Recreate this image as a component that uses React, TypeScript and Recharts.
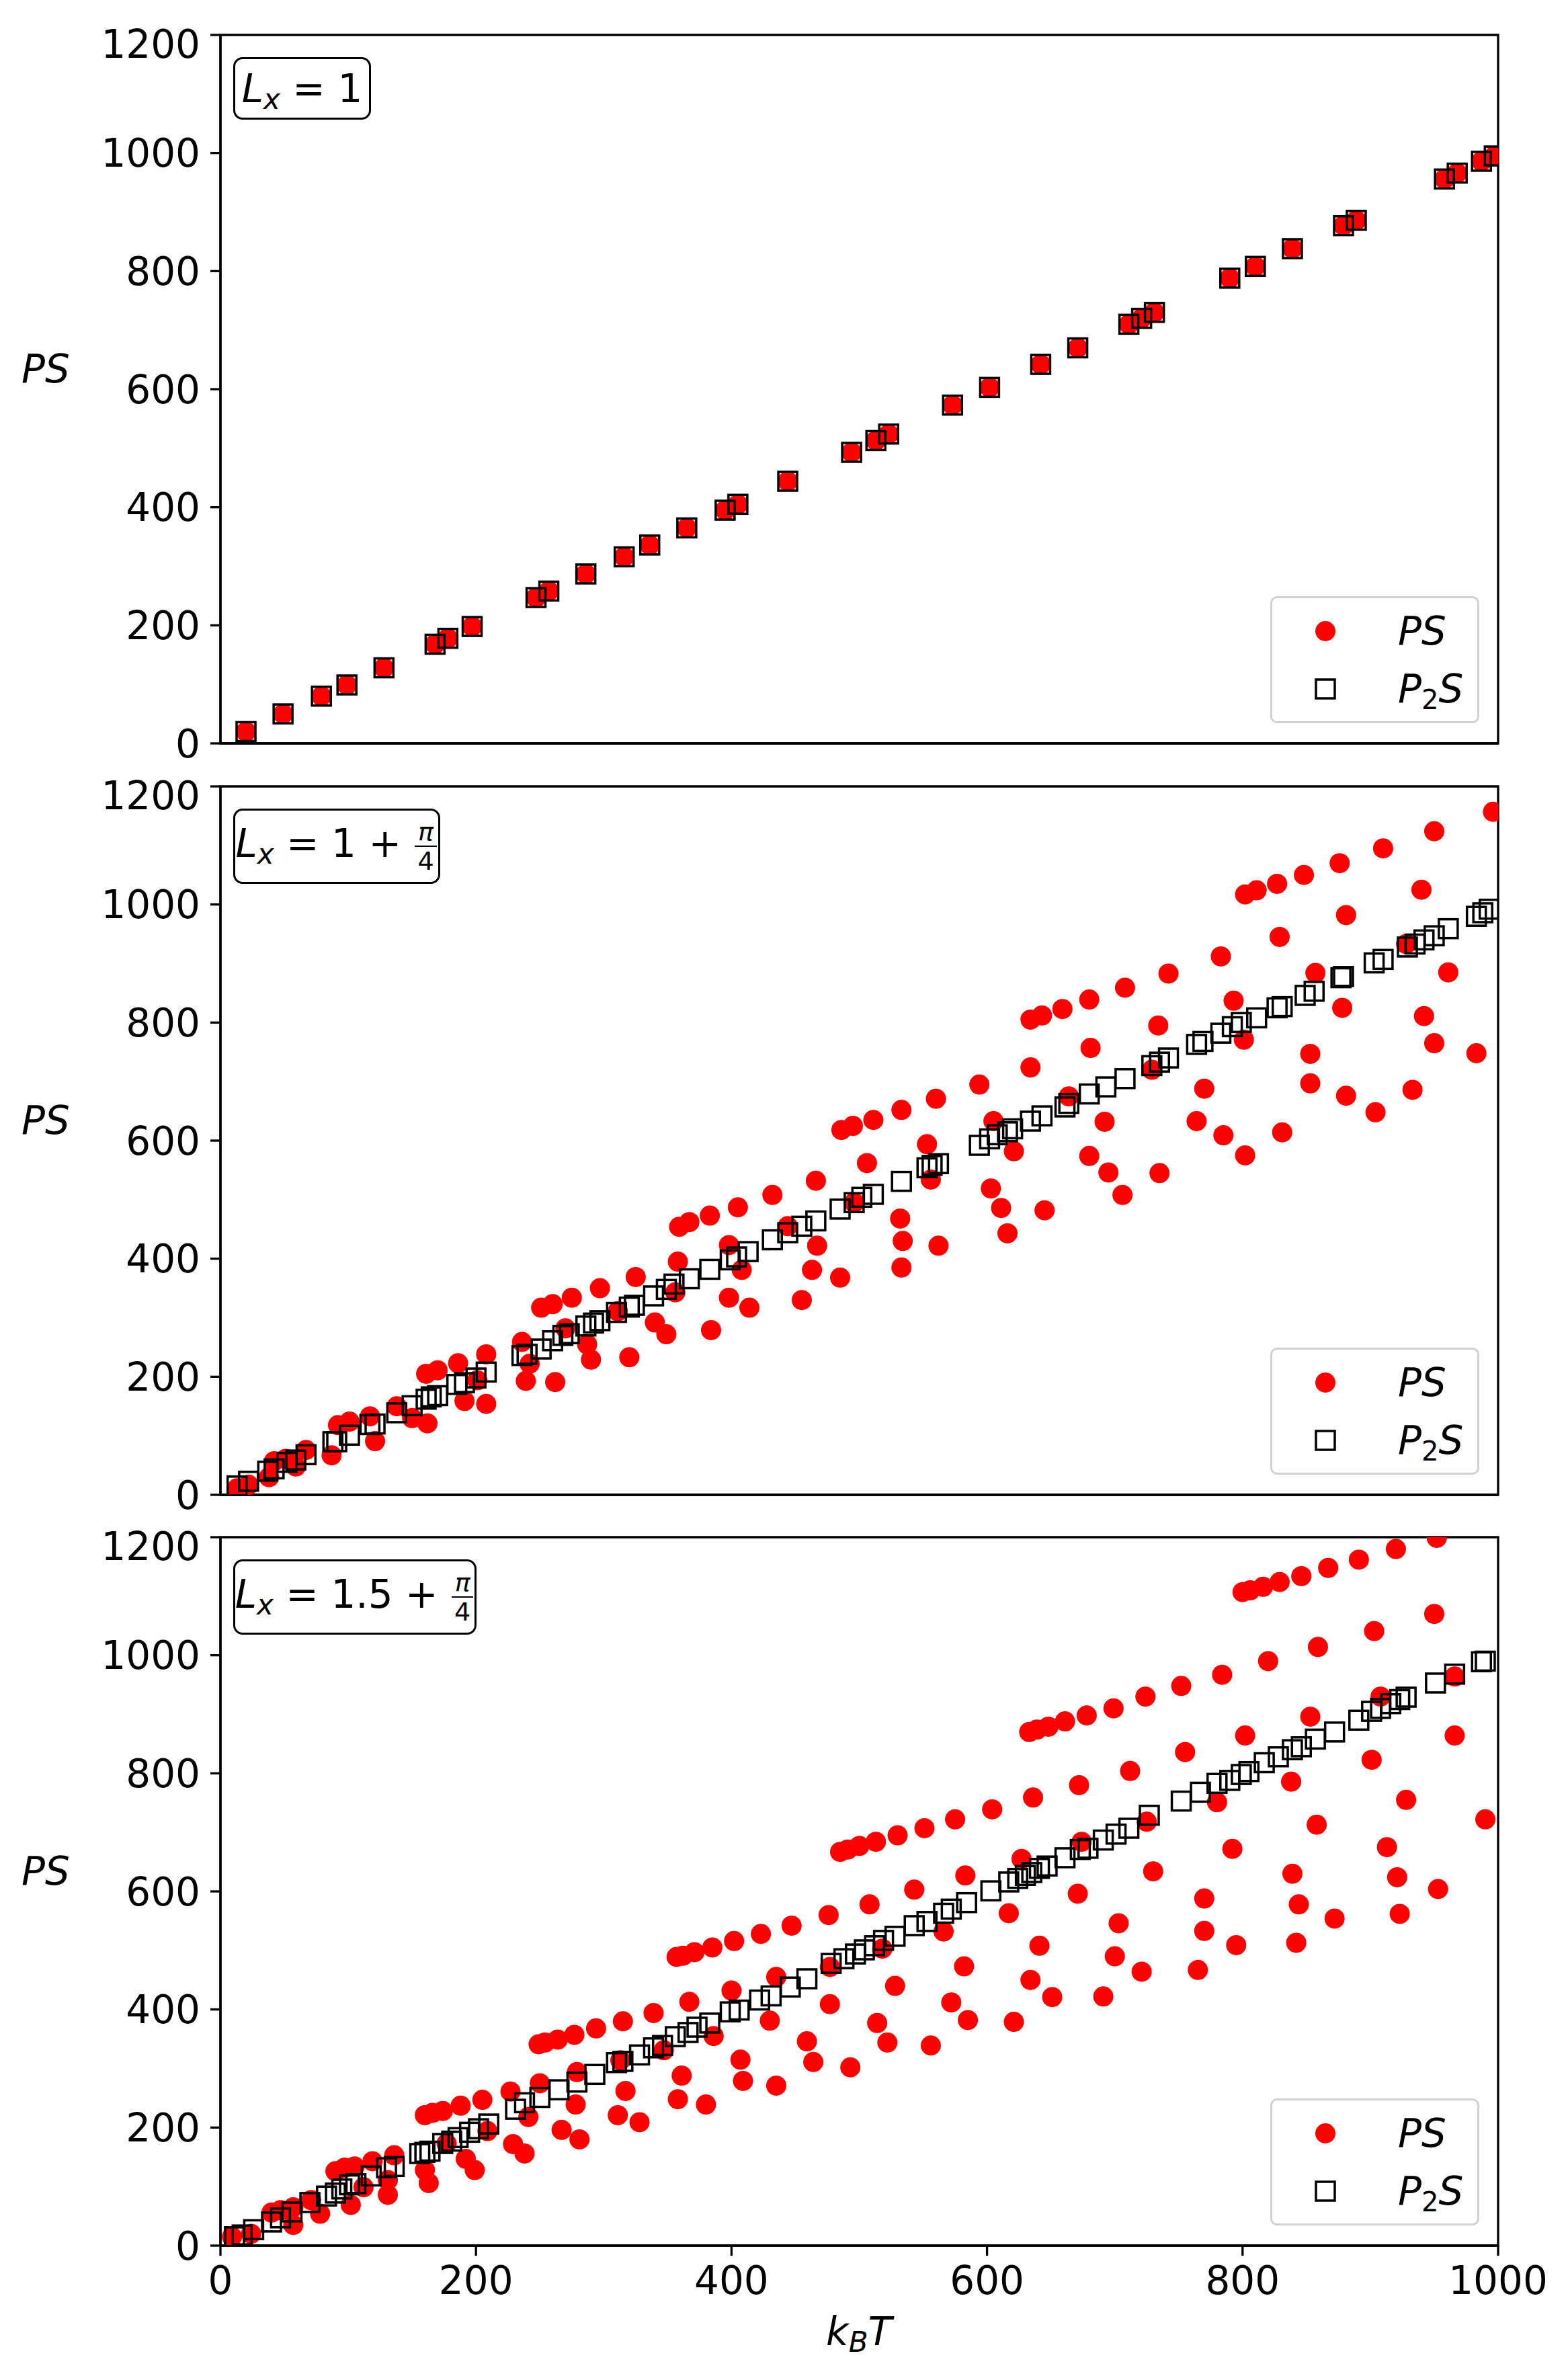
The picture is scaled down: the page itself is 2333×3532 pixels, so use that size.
import React from 'react';
import { ScatterChart, Scatter, XAxis, YAxis, ReferenceArea } from 'recharts';

// panel A: L_x = 1 (PS and P2S coincide)
const KT_A = [20, 49, 79, 99, 128, 168, 178, 197, 247, 257, 286, 316, 336, 365, 395, 405, 444, 494, 513, 523, 573, 602, 642, 671, 711, 721, 731, 790, 810, 839, 879, 889, 958, 968, 987, 997];
const PS_A = [20, 50, 80, 99, 128, 168, 178, 198, 247, 258, 287, 316, 336, 365, 395, 405, 444, 493, 513, 524, 573, 603, 642, 670, 710, 720, 730, 788, 808, 838, 877, 886, 956, 966, 986, 995];
const P2S_A = [20, 50, 80, 99, 128, 168, 178, 198, 247, 258, 287, 316, 336, 365, 395, 405, 444, 493, 513, 524, 573, 603, 642, 670, 710, 720, 730, 788, 808, 838, 877, 886, 956, 966, 986, 995];

// panel B: L_x = 1 + pi/4, [kT, value]
const PS_B: [number, number][] = [
  [13, 11], [22, 17], [38, 30], [42, 57], [51, 61], [59, 48], [67, 76], [87, 67], [92, 118], [101, 124],
  [117, 133], [121, 91], [138, 150], [150, 130], [162, 121], [161, 205], [170, 211], [186, 223], [191, 159],
  [208, 238], [208, 154], [201, 194],
  [236, 259], [242, 222], [239, 193], [251, 317], [260, 323], [275, 334], [270, 282], [287, 255], [290, 229],
  [262, 191], [297, 350], [311, 311], [320, 233], [325, 369], [340, 292], [349, 272], [358, 395], [356, 343],
  [359, 454], [367, 462], [383, 473], [384, 279], [398, 423], [408, 381], [398, 334], [414, 317], [405, 487],
  [432, 508], [444, 455], [455, 330], [463, 381], [467, 422], [466, 532],
  [486, 618], [495, 625], [511, 635], [533, 652], [560, 671], [594, 695], [634, 805], [643, 812], [659, 823],
  [680, 839], [708, 859], [634, 724], [605, 633], [664, 675], [692, 632], [496, 495], [506, 562], [553, 594],
  [556, 534], [621, 582], [532, 468], [534, 430], [533, 385], [562, 422], [485, 368], [603, 519], [611, 486],
  [616, 443], [645, 482], [680, 574], [695, 546], [706, 508], [681, 757],
  [996, 1157], [950, 1124], [910, 1095], [876, 1070], [848, 1050], [827, 1035], [811, 1024], [802, 1017],
  [940, 1025], [881, 982], [829, 945], [783, 912], [742, 883], [961, 885], [857, 884], [793, 837], [734, 795],
  [928, 933], [878, 825], [801, 771], [942, 811], [950, 765], [983, 748], [853, 747], [770, 688], [853, 697],
  [881, 676], [933, 686], [764, 633], [785, 609], [802, 575], [831, 614], [904, 648], [735, 545], [729, 720],
];
const P2S_B: [number, number][] = [
  [13, 15], [22, 23], [37, 40], [42, 44], [52, 55], [59, 59], [67, 68], [88, 90], [91, 90], [101, 101],
  [117, 119], [121, 120], [138, 139], [150, 151], [161, 162], [165, 166], [170, 168], [185, 187], [191, 190],
  [200, 198], [208, 208],
  [236, 236], [240, 238], [251, 247], [260, 261], [268, 270], [273, 273], [286, 286], [292, 291], [297, 295],
  [310, 309], [320, 318], [324, 321], [339, 337], [349, 348], [355, 357], [367, 366], [383, 382], [399, 398],
  [404, 403], [413, 412], [432, 432], [444, 444], [455, 455], [466, 464],
  [485, 484], [496, 495], [502, 504], [511, 509], [533, 531], [553, 554], [557, 558], [562, 561], [594, 592],
  [602, 603], [608, 610], [616, 615], [620, 620], [634, 633], [643, 642], [661, 657], [664, 663], [680, 679],
  [693, 691], [708, 705],
  [729, 727], [735, 733], [742, 740], [764, 763], [769, 768], [783, 782], [792, 793], [799, 800], [811, 808],
  [827, 825], [831, 827], [849, 846], [856, 853], [877, 876], [879, 878], [903, 901], [910, 907], [929, 928],
  [935, 933], [942, 940], [950, 947], [961, 959], [983, 980], [988, 986], [993, 992],
];

// panel C: L_x = 1.5 + pi/4
const PS_C: [number, number][] = [
  [9, 15], [24, 20], [40, 56], [47, 60], [57, 65], [57, 35], [71, 77], [78, 54], [90, 126], [97, 132],
  [105, 134], [119, 143], [136, 153], [102, 69], [112, 99], [131, 111], [131, 86], [160, 221], [166, 225],
  [174, 228], [188, 237], [205, 247], [160, 128], [163, 106], [192, 147], [199, 128], [209, 194], [177, 173],
  [249, 341], [254, 344], [264, 349], [277, 357], [294, 368], [315, 380], [339, 394], [367, 413], [400, 432],
  [435, 455], [357, 489], [362, 491], [371, 497], [385, 505], [402, 516], [423, 528], [447, 542], [430, 381],
  [459, 346], [464, 311], [407, 315], [409, 279], [435, 271], [386, 355], [347, 331], [361, 288], [358, 248],
  [380, 239], [317, 262], [311, 221], [328, 209], [278, 239], [279, 294], [267, 196], [281, 180], [250, 275],
  [241, 218], [229, 172], [238, 156], [227, 261], [313, 314],
  [485, 667], [491, 671], [500, 677], [513, 684], [530, 695], [551, 707], [575, 722], [604, 739], [636, 759],
  [672, 780], [712, 804], [633, 870], [639, 874], [648, 879], [661, 888], [678, 898], [699, 910], [476, 560],
  [508, 578], [543, 603], [583, 627], [627, 655], [674, 684], [671, 596], [617, 563], [566, 532], [518, 503],
  [703, 546], [641, 508], [700, 490], [582, 473], [528, 440], [477, 409], [634, 450], [651, 421], [691, 422],
  [572, 412], [585, 382], [621, 379], [514, 377], [522, 344], [556, 339], [493, 302], [477, 472],
  [800, 1107], [806, 1110], [816, 1116], [829, 1124], [846, 1134], [867, 1148], [891, 1162], [920, 1180],
  [952, 1199], [724, 930], [752, 948], [784, 967], [820, 990], [859, 1014], [903, 1041], [950, 1070],
  [755, 836], [802, 864], [853, 896], [908, 930], [966, 964], [966, 864], [901, 823], [838, 786], [780, 751],
  [725, 718], [928, 755], [990, 722], [858, 713], [792, 672], [730, 634], [913, 675], [839, 630], [921, 624],
  [953, 604], [770, 588], [844, 578], [872, 554], [923, 562], [770, 533], [795, 509], [842, 513], [765, 467],
  [721, 464],
];
const P2S_C: [number, number][] = [
  [11, 15], [17, 18], [26, 27], [40, 40], [47, 47], [56, 57], [70, 73], [83, 84], [90, 89], [95, 96],
  [101, 103], [106, 105], [118, 118], [130, 132], [136, 134], [156, 156], [160, 158], [164, 160], [174, 173],
  [181, 177], [186, 183], [195, 192], [202, 198], [210, 206],
  [231, 231], [238, 242], [250, 251], [265, 264], [279, 277], [293, 290], [310, 310], [315, 312], [328, 323],
  [339, 335], [346, 339], [356, 354], [366, 361], [373, 370], [383, 377], [399, 396], [406, 399], [422, 416],
  [431, 423], [446, 438], [459, 452],
  [478, 478], [488, 486], [497, 494], [504, 501], [512, 508], [519, 517], [528, 524], [543, 542], [553, 549],
  [566, 563], [572, 570], [584, 581], [603, 601], [617, 616], [624, 622], [630, 627], [635, 632], [641, 639],
  [647, 643], [661, 657], [673, 671], [679, 673], [691, 687], [701, 697], [711, 707],
  [727, 729], [752, 753], [767, 768], [780, 783], [790, 788], [799, 798], [805, 803], [817, 818], [828, 828],
  [839, 840], [846, 845], [857, 858], [872, 870], [891, 890], [901, 905], [908, 910], [916, 918], [923, 925],
  [928, 929], [951, 953], [966, 968], [987, 989], [990, 990],
];

const X_TICKS = [0, 200, 400, 600, 800, 1000];
const Y_TICKS = [0, 200, 400, 600, 800, 1000, 1200];

const FONT = '"DejaVu Sans", sans-serif';
const FS = 58;
const PLOT_LEFT = 328;
const PLOT_RIGHT = 2229;
const PLOT_H = 1054;
const PANEL_TOPS = [52, 1169.5, 2287];

const zipPts = (xs: number[], ys: number[]) => xs.map((x, i) => ({ x, y: ys[i] }));
const toPts = (arr: [number, number][]) => arr.map(([x, y]) => ({ x, y }));

const RedDot = (p: any) => <circle cx={p.cx} cy={p.cy} r={15} fill="#ff0000" />;
const OpenSquare = (p: any) => (
  <rect x={p.cx - 14} y={p.cy - 14} width={28} height={28} fill="none" stroke="#000" strokeWidth={3.5} />
);

const Frac = () => (
  <span style={{ display: 'inline-flex', flexDirection: 'column', alignItems: 'center', fontSize: 38, lineHeight: 1, verticalAlign: 'middle', margin: '0 2px' }}>
    <span style={{ fontStyle: 'italic', paddingBottom: 2 }}>π</span>
    <span style={{ borderTop: '2.5px solid #000', padding: '2px 4px 0' }}>4</span>
  </span>
);

const Lx = ({ rest, frac }: { rest: string; frac: boolean }) => (
  <span>
    <i>L</i>
    <sub style={{ fontStyle: 'italic', fontSize: 42, verticalAlign: '-10px', lineHeight: 0 }}>x</sub>
    <span> = {rest}</span>
    {frac ? <span> + </span> : null}
    {frac ? <Frac /> : null}
  </span>
);

const panels = [
  { ps: zipPts(KT_A, PS_A), p2s: zipPts(KT_A, P2S_A), box: { w: 205, h: 93 }, label: <Lx rest="1" frac={false} />, last: false },
  { ps: toPts(PS_B), p2s: toPts(P2S_B), box: { w: 308, h: 112 }, label: <Lx rest="1" frac={true} />, last: false },
  { ps: toPts(PS_C), p2s: toPts(P2S_C), box: { w: 362, h: 112 }, label: <Lx rest="1.5" frac={true} />, last: true },
];

function LegendBox({ top }: { top: number }) {
  return (
    <div style={{ position: 'absolute', left: 1890, top, width: 311, height: 189, boxSizing: 'border-box', border: '3px solid #d0d0d0', borderRadius: 10, background: 'rgba(255,255,255,0.8)', fontFamily: FONT, fontSize: FS }}>
      <svg width={311} height={189} style={{ position: 'absolute', left: -3, top: -3 }}>
        <circle cx={82} cy={52} r={15} fill="#ff0000" />
        <rect x={68} y={124} width={28} height={28} fill="none" stroke="#000" strokeWidth={3.5} />
      </svg>
      <div style={{ position: 'absolute', left: 187, top: 52 - 3 - 36, fontStyle: 'italic', lineHeight: '72px' }}>PS</div>
      <div style={{ position: 'absolute', left: 187, top: 138 - 3 - 36, lineHeight: '72px' }}>
        <i>P</i>
        <sub style={{ fontSize: 40, verticalAlign: '-10px', lineHeight: 0 }}>2</sub>
        <i>S</i>
      </div>
    </div>
  );
}

function Panel({ idx }: { idx: number }) {
  const cfg = panels[idx];
  const top = PANEL_TOPS[idx];
  return (
    <>
      <div style={{ position: 'absolute', left: 0, top: top - 20 }}>
        <ScatterChart width={2333} height={1184} margin={{ top: 20, right: 2333 - PLOT_RIGHT, bottom: 0, left: PLOT_LEFT - 120 }}>
          <XAxis
            type="number"
            dataKey="x"
            domain={[0, 1000]}
            ticks={X_TICKS}
            allowDataOverflow
            height={110}
            tickSize={15}
            tickMargin={16}
            axisLine={{ stroke: '#000', strokeWidth: 3.3 }}
            tickLine={{ stroke: '#000', strokeWidth: 3.3 }}
            tick={cfg.last ? { fill: '#000', fontSize: FS, fontFamily: FONT } : false}
          />
          <YAxis
            type="number"
            dataKey="y"
            domain={[0, 1200]}
            ticks={Y_TICKS}
            allowDataOverflow
            width={120}
            tickSize={15}
            tickMargin={15}
            axisLine={{ stroke: '#000', strokeWidth: 3.3 }}
            tickLine={{ stroke: '#000', strokeWidth: 3.3 }}
            tick={{ fill: '#000', fontSize: FS, fontFamily: FONT }}
          />
          <Scatter name="PS" data={cfg.ps} shape={RedDot} isAnimationActive={false} />
          <Scatter name="P2S" data={cfg.p2s} shape={OpenSquare} isAnimationActive={false} />
          <ReferenceArea x1={0} x2={1000} y1={0} y2={1200} fill="none" fillOpacity={0} stroke="#000" strokeWidth={3.3} />
        </ScatterChart>
      </div>
      <div style={{ position: 'absolute', left: 347, top: top + 33, width: cfg.box.w, height: cfg.box.h, boxSizing: 'border-box', border: '3px solid #000', borderRadius: 14, background: '#fff', display: 'flex', alignItems: 'center', justifyContent: 'center', fontFamily: FONT, fontSize: FS, whiteSpace: 'nowrap' }}>
        {cfg.label}
      </div>
      <LegendBox top={top + PLOT_H - 30 - 189} />
      <div style={{ position: 'absolute', left: 28, top: top + PLOT_H / 2 - 30 - 36, width: 80, textAlign: 'center', fontFamily: FONT, fontSize: FS, fontStyle: 'italic', lineHeight: '72px' }}>PS</div>
    </>
  );
}

export default function App() {
  return (
    <div style={{ position: 'relative', width: 2333, height: 3532, background: '#fff', overflow: 'hidden' }}>
      <style>{'body{margin:0}'}</style>
      {panels.map((_, i) => (
        <Panel key={i} idx={i} />
      ))}
      <div style={{ position: 'absolute', left: 1178, top: 3433, width: 200, height: 72, textAlign: 'center', fontFamily: FONT, fontSize: FS, lineHeight: '72px' }}>
        <i>k</i>
        <sub style={{ fontStyle: 'italic', fontSize: 42, verticalAlign: '-10px', lineHeight: 0 }}>B</sub>
        <i>T</i>
      </div>
    </div>
  );
}
